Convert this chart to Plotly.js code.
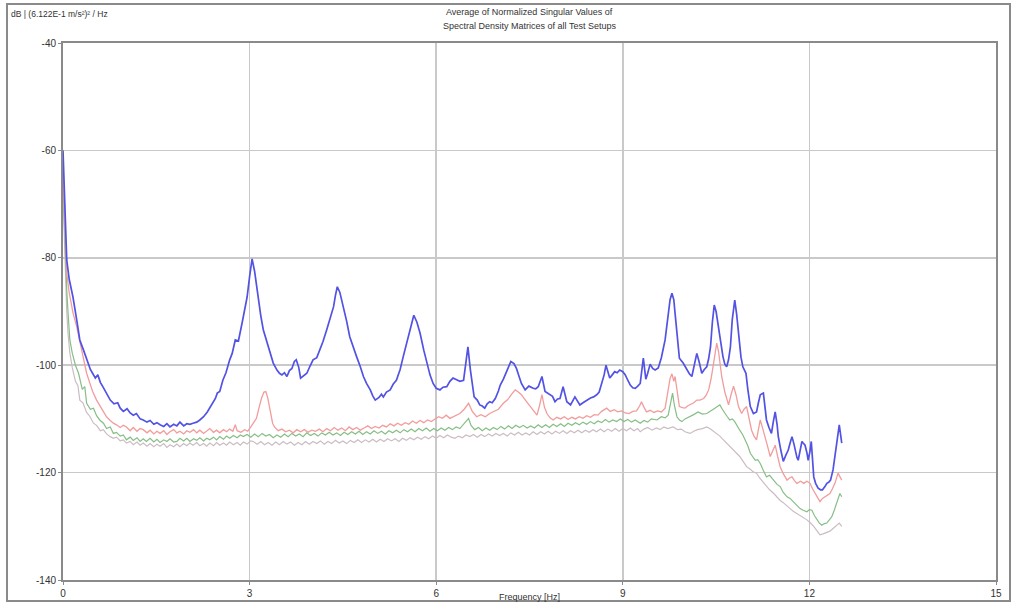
<!DOCTYPE html>
<html>
<head>
<meta charset="utf-8">
<script src="https://cdn.plot.ly/plotly-3.0.1.min.js"></script>
<style>
  html, body { margin: 0; padding: 0; background: #ffffff; }
  #chart { width: 1017px; height: 605px; }
</style>
</head>
<body>
<div id="chart"></div>
<script>
// ---- Data (frequency in Hz, level in dB) ----
const titleLine1 = "Average of Normalized Singular Values of";
const titleLine2 = "Spectral Density Matrices of all Test Setups";
const yUnitLabel = "dB | (6.122E-1 m/s²)² / Hz";
const xAxisLabel = "Frequency [Hz]";
const xTickValues = [0, 3, 6, 9, 12, 15];
const yTickValues = [-140, -120, -100, -80, -60, -40];

const blueFreq = [0.00,0.02,0.04,0.06,0.10,0.16,0.22,0.27,0.33,0.39,0.44,0.48,0.52,0.56,0.60,0.64,0.70,0.76,0.82,0.88,0.92,0.97,1.03,1.08,1.13,1.18,1.24,1.29,1.35,1.40,1.46,1.51,1.56,1.62,1.67,1.72,1.78,1.83,1.88,1.94,1.99,2.04,2.09,2.15,2.20,2.26,2.32,2.37,2.41,2.45,2.48,2.52,2.57,2.62,2.68,2.72,2.77,2.82,2.88,2.92,2.96,3.00,3.04,3.08,3.13,3.18,3.22,3.28,3.33,3.38,3.44,3.48,3.52,3.56,3.60,3.64,3.68,3.72,3.75,3.79,3.82,3.87,3.92,3.97,4.02,4.08,4.13,4.18,4.24,4.30,4.35,4.38,4.41,4.45,4.51,4.56,4.61,4.66,4.72,4.78,4.83,4.88,4.94,4.98,5.02,5.08,5.12,5.15,5.20,5.26,5.31,5.36,5.42,5.47,5.52,5.58,5.64,5.69,5.74,5.80,5.85,5.90,5.95,6.00,6.06,6.11,6.17,6.22,6.27,6.33,6.38,6.44,6.48,6.51,6.55,6.61,6.66,6.70,6.74,6.78,6.82,6.86,6.90,6.95,7.00,7.03,7.08,7.13,7.17,7.20,7.25,7.29,7.33,7.37,7.43,7.49,7.56,7.60,7.64,7.67,7.70,7.75,7.83,7.87,7.91,7.95,7.99,8.04,8.10,8.16,8.23,8.28,8.31,8.36,8.42,8.48,8.53,8.58,8.62,8.66,8.70,8.73,8.76,8.79,8.83,8.87,8.91,8.95,9.00,9.04,9.08,9.12,9.16,9.20,9.24,9.28,9.33,9.37,9.40,9.44,9.48,9.52,9.57,9.62,9.68,9.73,9.76,9.79,9.82,9.84,9.88,9.91,9.97,10.03,10.07,10.11,10.15,10.19,10.23,10.27,10.31,10.35,10.38,10.41,10.44,10.47,10.50,10.54,10.58,10.61,10.64,10.67,10.70,10.73,10.76,10.80,10.83,10.87,10.90,10.93,10.98,11.01,11.05,11.10,11.15,11.18,11.21,11.26,11.28,11.31,11.35,11.39,11.42,11.45,11.48,11.50,11.54,11.58,11.62,11.66,11.69,11.72,11.75,11.77,11.80,11.82,11.85,11.88,11.90,11.93,11.96,11.98,12.01,12.03,12.05,12.07,12.10,12.14,12.18,12.21,12.25,12.28,12.31,12.34,12.38,12.41,12.44,12.46,12.48,12.50,12.52];
const blueDb = [-60,-68,-75,-80.4,-84,-87.3,-91.5,-95.3,-97.2,-99,-100.8,-101.6,-102.4,-101.8,-103.2,-104,-105.3,-106.5,-107.2,-107.0,-108,-108.6,-108.1,-108.9,-109.3,-109.0,-110.0,-110.2,-110.6,-110.3,-111.0,-110.7,-111.1,-111.4,-110.9,-111.5,-111.0,-111.3,-110.6,-111.3,-110.9,-111.0,-110.8,-110.6,-110.2,-109.6,-108.7,-107.8,-107,-106.2,-105.2,-104.9,-102.8,-101.4,-99,-97.8,-95.3,-95.5,-92.1,-90.0,-87.3,-83.5,-80.2,-82.5,-87.0,-90.8,-93.4,-95.8,-97.8,-99.6,-100.9,-101.5,-101.8,-101.4,-102.1,-101.0,-100.6,-99.3,-99.0,-100.4,-102.4,-101.9,-101.5,-100.2,-99,-98.6,-97.2,-95.6,-93.4,-91.2,-89.1,-87.0,-85.4,-86.4,-89.1,-91.8,-94.7,-96.6,-98.4,-100.3,-102.1,-103.4,-104.6,-105.7,-106.5,-106.0,-105.4,-105.9,-105.0,-104.6,-103.5,-102.8,-100.8,-98.4,-96.0,-93.4,-90.7,-92.0,-94,-97.2,-99.6,-101.8,-103.4,-104.3,-104.6,-104.1,-104,-103.0,-102.4,-102.7,-103,-102.8,-99.5,-96.6,-100.9,-105.9,-106.5,-107.4,-107.6,-108,-107.2,-106.8,-107.0,-106.2,-104.8,-103.7,-102.6,-101.2,-100.0,-99.3,-99.7,-100.6,-102.0,-103.4,-104.6,-103.9,-104.3,-104.4,-104,-103.0,-102.1,-104.9,-105.5,-105.8,-106.8,-106.3,-106.2,-104,-106.8,-107.4,-105.9,-106.7,-107.4,-107.0,-106.5,-106.1,-105.9,-105.5,-105.0,-103.4,-101.8,-100,-101.5,-102.4,-101.8,-101.2,-101.4,-100.9,-101.2,-101.8,-102.8,-103.7,-104.2,-104.3,-103.9,-103.4,-98.7,-102.6,-101.5,-99.8,-100.6,-100.9,-100.5,-98.6,-95.3,-90.3,-87.8,-86.6,-87.8,-90.3,-95.0,-98.7,-99.6,-100.9,-101.6,-102.1,-99.8,-97.8,-99.5,-101.5,-100.8,-100.3,-98.8,-96.6,-92.0,-88.8,-90.0,-93.4,-96.2,-98.4,-99.8,-100.3,-99.0,-96.6,-91.5,-87.9,-90.5,-95.3,-98.5,-100.3,-101.5,-104.5,-107.7,-109,-108.7,-107.0,-105.5,-105.2,-107.5,-110.2,-111.6,-112.7,-110.5,-108.7,-111.0,-113.3,-115.8,-117.9,-116.8,-115.8,-114.5,-113.3,-114.6,-115.8,-117.2,-117.7,-116.0,-114.2,-114.5,-114.9,-116.3,-117.7,-116.0,-114.2,-117.5,-120.8,-122.0,-122.9,-123.2,-123.2,-122.6,-122,-121.8,-121.4,-119.5,-117.0,-114.5,-112.5,-111.1,-112.8,-114.5];

const redFreq = [0.00,0.02,0.04,0.06,0.10,0.16,0.22,0.28,0.33,0.38,0.43,0.48,0.54,0.60,0.65,0.70,0.76,0.81,0.86,0.92,0.97,1.02,1.08,1.13,1.19,1.24,1.29,1.35,1.40,1.46,1.51,1.56,1.62,1.67,1.72,1.78,1.83,1.88,1.94,1.99,2.04,2.10,2.15,2.20,2.26,2.31,2.36,2.42,2.47,2.52,2.58,2.63,2.68,2.73,2.77,2.80,2.86,2.92,2.97,3.02,3.07,3.11,3.15,3.19,3.23,3.26,3.29,3.33,3.37,3.40,3.46,3.52,3.58,3.64,3.70,3.76,3.82,3.88,3.94,4.00,4.06,4.12,4.18,4.24,4.30,4.36,4.42,4.48,4.54,4.60,4.66,4.72,4.78,4.84,4.90,4.96,5.02,5.08,5.14,5.20,5.26,5.32,5.38,5.44,5.50,5.56,5.62,5.68,5.74,5.80,5.86,5.92,5.98,6.04,6.10,6.16,6.22,6.30,6.38,6.45,6.52,6.58,6.65,6.72,6.79,6.86,6.93,7.00,7.08,7.15,7.22,7.27,7.32,7.37,7.44,7.51,7.57,7.62,7.66,7.70,7.74,7.78,7.83,7.88,7.94,8.00,8.06,8.12,8.18,8.24,8.30,8.36,8.42,8.48,8.54,8.60,8.66,8.71,8.74,8.80,8.86,8.92,8.98,9.04,9.10,9.16,9.22,9.27,9.30,9.34,9.38,9.44,9.50,9.56,9.62,9.68,9.72,9.76,9.79,9.82,9.84,9.88,9.91,9.96,10.00,10.04,10.08,10.14,10.19,10.24,10.30,10.34,10.38,10.42,10.46,10.49,10.51,10.54,10.59,10.64,10.70,10.74,10.78,10.82,10.86,10.91,10.95,10.99,11.03,11.07,11.11,11.15,11.18,11.21,11.25,11.29,11.33,11.37,11.41,11.45,11.49,11.53,11.58,11.64,11.68,11.72,11.76,11.80,11.86,11.91,11.96,12.01,12.05,12.09,12.13,12.17,12.21,12.25,12.29,12.33,12.37,12.41,12.46,12.49,12.52];
const redDb = [-64,-70,-77,-82.8,-86.5,-90.2,-92.8,-96.3,-99.0,-101.5,-103.3,-105.0,-106.5,-107.6,-108.7,-109.6,-110.3,-110.8,-111.1,-111.6,-111.2,-111.5,-112.2,-111.6,-112.3,-111.8,-112.0,-112.6,-112.1,-112.8,-112.3,-112.7,-112.2,-112.9,-112.4,-112.0,-112.6,-112.3,-112.8,-112.2,-112.5,-112.0,-112.6,-112.1,-112.7,-112.3,-111.8,-112.5,-112.1,-112.6,-112.0,-112.4,-111.9,-112.3,-111.1,-112.2,-112.5,-112.0,-112.3,-111.5,-110.6,-109.9,-108.0,-106.2,-105.0,-104.9,-106.0,-108.6,-110.8,-111.5,-112.2,-111.9,-112.4,-112.1,-112.6,-112.0,-112.4,-112.0,-112.5,-112.1,-112.3,-111.9,-112.4,-111.8,-112.2,-111.6,-112.1,-111.7,-112.2,-111.5,-112.0,-111.6,-112.1,-111.7,-111.3,-111.8,-111.4,-111.7,-111.2,-111.5,-110.9,-111.3,-110.8,-111.2,-110.7,-111.0,-110.4,-110.8,-110.3,-110.7,-110.2,-110.5,-110.0,-109.6,-109.9,-109.3,-109.9,-109.4,-109.0,-108.2,-107.1,-108.6,-109.6,-109.2,-109.6,-109.0,-108.6,-108.2,-107.1,-106.4,-105.3,-104.6,-105.0,-105.5,-106.6,-107.7,-108.6,-109.3,-107.6,-105.5,-107.8,-109.0,-109.8,-110.2,-109.7,-110.0,-109.6,-110.1,-109.7,-110.0,-109.6,-109.9,-109.4,-109.7,-109.2,-109.3,-108.6,-108.2,-108.0,-108.6,-108.3,-108.7,-108.5,-108.9,-109.0,-108.6,-108.5,-107.6,-106.8,-107.8,-108.7,-108.4,-108.8,-108.5,-108.7,-108.0,-105.6,-102.5,-101.6,-103.0,-102.1,-105.5,-107.7,-107.9,-108.0,-107.6,-107.4,-107.0,-106.5,-106.5,-106.2,-105.6,-104.6,-102.5,-99.6,-97.0,-95.9,-97.5,-102.1,-105.0,-107.4,-105.5,-103.9,-105.5,-107.7,-109.0,-108.2,-107.7,-110.0,-112.1,-113.2,-113.9,-112.0,-110.2,-111.8,-113.3,-115.2,-117.0,-115.9,-114.9,-117.0,-118.9,-120.2,-121.4,-121.0,-120.8,-121.5,-122.0,-121.6,-122.0,-121.6,-122.0,-123.0,-123.9,-124.8,-125.4,-124.8,-124.5,-124.2,-123.9,-123.0,-122.0,-120.1,-120.8,-121.4];

const greenFreq = [0.00,0.02,0.04,0.06,0.08,0.11,0.15,0.20,0.25,0.31,0.35,0.38,0.44,0.49,0.54,0.59,0.65,0.70,0.76,0.81,0.86,0.92,0.97,1.02,1.08,1.13,1.19,1.24,1.29,1.34,1.40,1.46,1.51,1.56,1.62,1.67,1.72,1.78,1.83,1.88,1.94,1.99,2.04,2.10,2.15,2.20,2.26,2.31,2.36,2.42,2.47,2.52,2.58,2.63,2.68,2.74,2.80,2.85,2.90,2.96,3.02,3.08,3.14,3.20,3.26,3.32,3.38,3.44,3.50,3.56,3.62,3.68,3.74,3.80,3.86,3.92,3.98,4.04,4.10,4.16,4.22,4.28,4.34,4.40,4.46,4.52,4.58,4.64,4.70,4.76,4.82,4.88,4.94,5.00,5.06,5.12,5.18,5.24,5.30,5.36,5.42,5.48,5.54,5.60,5.66,5.72,5.78,5.84,5.90,5.96,6.02,6.08,6.14,6.20,6.26,6.32,6.38,6.44,6.48,6.52,6.56,6.62,6.68,6.74,6.80,6.86,6.92,6.98,7.04,7.10,7.16,7.22,7.28,7.34,7.40,7.46,7.52,7.58,7.64,7.70,7.76,7.82,7.88,7.94,8.00,8.06,8.12,8.18,8.24,8.30,8.36,8.42,8.48,8.54,8.60,8.66,8.72,8.78,8.84,8.90,8.96,9.02,9.08,9.14,9.20,9.28,9.34,9.40,9.46,9.55,9.62,9.68,9.73,9.77,9.80,9.83,9.87,9.91,9.95,10.00,10.04,10.08,10.14,10.21,10.28,10.35,10.41,10.48,10.52,10.56,10.60,10.64,10.68,10.72,10.76,10.80,10.84,10.88,10.93,10.97,11.01,11.05,11.09,11.13,11.17,11.21,11.26,11.31,11.36,11.42,11.48,11.53,11.58,11.64,11.69,11.74,11.80,11.85,11.90,11.96,12.00,12.04,12.08,12.12,12.16,12.20,12.24,12.28,12.32,12.36,12.40,12.44,12.49,12.52];
const greenDb = [-66,-74,-81,-86,-90,-95.3,-97.8,-100.0,-101.5,-104.5,-104.0,-107.1,-108.2,-108.0,-109.4,-110.2,-110.8,-111.8,-111.5,-112.7,-112.5,-113.2,-113.0,-113.9,-113.4,-114.0,-113.5,-114.2,-113.7,-114.2,-113.6,-114.3,-113.8,-114.4,-113.9,-114.2,-113.7,-114.3,-114.2,-113.6,-114.1,-113.6,-114.2,-113.7,-114.0,-113.5,-114.1,-113.6,-113.9,-113.4,-113.9,-113.3,-113.8,-113.2,-113.6,-113.1,-113.5,-113.0,-113.3,-112.9,-113.4,-112.8,-113.3,-112.7,-113.2,-112.9,-113.5,-113.0,-113.4,-112.8,-113.3,-112.7,-113.2,-112.8,-113.3,-112.6,-113.1,-112.7,-113.2,-112.6,-113.0,-112.5,-113.0,-112.6,-113.1,-112.5,-112.9,-112.4,-112.8,-112.3,-112.9,-112.4,-112.8,-112.2,-112.7,-112.3,-112.8,-112.2,-112.6,-112.1,-112.6,-112.0,-112.4,-111.9,-112.4,-111.8,-112.2,-111.7,-112.3,-111.8,-112.2,-111.7,-112.1,-111.6,-112.0,-111.5,-111.8,-111.0,-110.4,-109.9,-111.2,-112.0,-111.6,-112.2,-111.7,-112.1,-111.6,-112.0,-111.4,-111.9,-111.3,-111.8,-111.2,-111.6,-111.2,-111.7,-111.3,-111.7,-111.1,-111.6,-111.1,-111.6,-111.0,-111.4,-110.9,-111.4,-110.8,-111.2,-110.7,-111.1,-110.6,-111.0,-110.5,-110.9,-110.4,-110.7,-110.1,-110.6,-110.2,-110.5,-110.0,-110.5,-110.1,-110.6,-110.2,-110.8,-110.3,-110.6,-110.0,-110.2,-109.6,-109.8,-109.3,-107.0,-105.2,-107.5,-109.6,-110.2,-110.5,-110.0,-109.8,-109.6,-109.2,-108.7,-109.1,-109.0,-108.6,-108.0,-107.7,-107.4,-108.2,-109.0,-109.6,-110.2,-110.0,-110.5,-111.4,-112.1,-113.0,-113.9,-115.0,-116.4,-117.0,-117.7,-117.6,-118.3,-119.6,-120.8,-120.5,-121.4,-122.2,-122.6,-123.7,-124.5,-124.8,-125.4,-126.2,-126.7,-127.0,-127.3,-126.9,-127.0,-128.0,-128.8,-129.4,-129.8,-129.5,-129.4,-128.9,-128.2,-127.0,-125.7,-123.9,-124.5];

const greyFreq = [0.00,0.02,0.04,0.06,0.08,0.11,0.15,0.20,0.24,0.27,0.32,0.38,0.43,0.49,0.54,0.60,0.65,0.70,0.76,0.81,0.86,0.92,0.97,1.02,1.08,1.13,1.19,1.24,1.29,1.35,1.40,1.46,1.51,1.56,1.62,1.67,1.72,1.78,1.83,1.88,1.94,1.99,2.04,2.09,2.15,2.20,2.26,2.31,2.36,2.42,2.47,2.52,2.58,2.63,2.68,2.74,2.80,2.85,2.90,2.96,3.02,3.06,3.12,3.18,3.24,3.30,3.36,3.42,3.48,3.54,3.60,3.66,3.72,3.78,3.84,3.90,3.96,4.02,4.08,4.14,4.20,4.26,4.32,4.38,4.44,4.50,4.56,4.62,4.68,4.74,4.80,4.86,4.92,4.98,5.04,5.10,5.16,5.22,5.28,5.34,5.40,5.46,5.52,5.58,5.64,5.70,5.76,5.82,5.88,5.94,6.00,6.06,6.12,6.18,6.24,6.30,6.36,6.42,6.48,6.54,6.60,6.66,6.72,6.78,6.84,6.90,6.96,7.02,7.08,7.14,7.20,7.26,7.32,7.38,7.44,7.50,7.56,7.62,7.68,7.74,7.80,7.86,7.92,7.98,8.04,8.10,8.16,8.22,8.28,8.34,8.40,8.46,8.52,8.58,8.64,8.70,8.76,8.82,8.88,8.94,9.00,9.06,9.12,9.18,9.24,9.28,9.34,9.40,9.47,9.54,9.60,9.66,9.72,9.81,9.88,9.94,10.00,10.08,10.14,10.20,10.28,10.35,10.41,10.46,10.51,10.56,10.61,10.67,10.72,10.78,10.83,10.88,10.94,10.99,11.04,11.09,11.15,11.20,11.26,11.31,11.36,11.42,11.47,11.53,11.58,11.64,11.69,11.74,11.80,11.85,11.90,11.96,12.01,12.07,12.12,12.17,12.22,12.28,12.33,12.38,12.43,12.48,12.52];
const greyDb = [-68,-77,-85,-90,-94,-97.7,-100.5,-103.0,-103.8,-106.5,-107.0,-108.8,-109.5,-110.8,-111.2,-112.2,-112.0,-112.8,-113.3,-113.6,-113.4,-114.1,-113.9,-114.5,-114.2,-114.8,-114.3,-114.9,-114.5,-115.1,-114.6,-115.2,-114.7,-115.1,-114.6,-115.3,-114.8,-115.2,-114.7,-115.2,-114.6,-115.0,-114.5,-114.9,-114.4,-115.0,-114.6,-115.1,-114.5,-115.0,-114.4,-114.9,-114.5,-114.9,-114.3,-114.8,-114.4,-114.9,-114.3,-114.7,-114.1,-114.2,-114.7,-114.2,-114.8,-114.4,-114.9,-114.3,-114.8,-114.2,-114.7,-114.3,-114.9,-114.4,-114.8,-114.2,-114.7,-114.2,-114.6,-114.1,-114.7,-114.2,-114.6,-114.0,-114.5,-114.1,-114.6,-114.0,-114.4,-113.9,-114.4,-113.9,-114.3,-113.8,-114.3,-113.8,-114.2,-113.7,-114.1,-113.7,-114.2,-113.6,-114.0,-113.5,-113.9,-113.4,-113.8,-113.3,-113.7,-113.2,-113.6,-113.1,-113.5,-113.0,-113.4,-113.6,-113.2,-113.5,-113.0,-113.3,-112.9,-113.4,-112.9,-113.3,-112.8,-113.2,-112.7,-113.1,-112.7,-113.2,-112.6,-113.0,-112.5,-113.0,-112.6,-113.0,-112.4,-112.9,-112.4,-112.8,-112.3,-112.8,-112.3,-112.7,-112.2,-112.7,-112.2,-112.6,-112.1,-112.6,-112.1,-112.5,-112.0,-112.4,-111.9,-112.4,-111.9,-112.3,-111.8,-112.3,-111.8,-112.2,-111.7,-112.2,-111.8,-112.4,-111.9,-111.6,-112.1,-111.7,-112.0,-111.5,-111.8,-111.5,-112.0,-111.9,-112.4,-112.7,-112.3,-112.0,-111.8,-111.5,-111.9,-112.3,-112.7,-113.2,-113.8,-114.5,-115.0,-115.7,-116.4,-117.0,-118.0,-118.9,-119.3,-119.8,-120.1,-121.0,-121.8,-122.6,-123.2,-123.8,-124.5,-125.2,-125.6,-126.3,-126.7,-127.2,-127.6,-128.0,-128.3,-128.8,-129.3,-130.0,-130.8,-131.6,-131.4,-131.2,-130.9,-130.4,-129.8,-129.4,-130.0];

// ---- Traces ----
const traces = [
  { x: greyFreq, y: greyDb, type: 'scatter', mode: 'lines', name: 'SV4',
    line: { color: '#cbbcc4', width: 1.2 } },
  { x: greenFreq, y: greenDb, type: 'scatter', mode: 'lines', name: 'SV3',
    line: { color: '#86be86', width: 1.2 } },
  { x: redFreq, y: redDb, type: 'scatter', mode: 'lines', name: 'SV2',
    line: { color: '#f29c9c', width: 1.3 } },
  { x: blueFreq, y: blueDb, type: 'scatter', mode: 'lines', name: 'SV1',
    line: { color: '#5252e4', width: 1.7 } }
];

const fontFam = '"Liberation Sans", Arial, sans-serif';
const textColor = '#333333';

const layout = {
  width: 1017, height: 605,
  margin: { l: 63, r: 21, t: 43, b: 25, pad: 0 },
  paper_bgcolor: '#ffffff',
  plot_bgcolor: '#ffffff',
  showlegend: false,
  font: { family: fontFam, size: 10, color: textColor },
  xaxis: {
    range: [0, 15],
    tickvals: xTickValues,
    ticktext: xTickValues.map(String),
    showgrid: true, gridcolor: '#c9c9c9', gridwidth: 1.5,
    zeroline: false,
    showline: true, linecolor: '#8a8a8a', linewidth: 2, mirror: true,
    ticks: 'outside', ticklen: 3, tickcolor: '#8a8a8a',
    tickfont: { family: fontFam, size: 10, color: textColor }
  },
  yaxis: {
    range: [-140, -40],
    tickvals: yTickValues,
    ticktext: yTickValues.map(String),
    showgrid: true, gridcolor: '#c9c9c9', gridwidth: 1.5,
    zeroline: false,
    showline: true, linecolor: '#8a8a8a', linewidth: 2, mirror: true,
    ticks: 'outside', ticklen: 3, tickcolor: '#8a8a8a',
    tickfont: { family: fontFam, size: 10, color: textColor }
  },
  annotations: [
    { text: titleLine1, xref: 'paper', yref: 'paper',
      x: 0.5, y: (580 - 12) / 537, xanchor: 'center', yanchor: 'middle',
      showarrow: false, font: { family: fontFam, size: 9, color: textColor } },
    { text: titleLine2, xref: 'paper', yref: 'paper',
      x: 0.5, y: (580 - 26) / 537, xanchor: 'center', yanchor: 'middle',
      showarrow: false, font: { family: fontFam, size: 9, color: textColor } },
    { text: yUnitLabel, xref: 'paper', yref: 'paper',
      x: (9 - 63) / 933, y: (580 - 14) / 537, xanchor: 'left', yanchor: 'middle',
      showarrow: false, font: { family: fontFam, size: 8.5, color: textColor } },
    { text: xAxisLabel, xref: 'paper', yref: 'paper',
      x: 0.5, y: (580 - 597) / 537, xanchor: 'center', yanchor: 'middle',
      showarrow: false, font: { family: fontFam, size: 9, color: textColor } }
  ],
  shapes: [
    { type: 'rect', xref: 'paper', yref: 'paper',
      x0: (7 - 63) / 933, x1: (1010 - 63) / 933,
      y0: (580 - 601) / 537, y1: (580 - 4) / 537,
      line: { color: '#8a8a8a', width: 2 }, fillcolor: 'rgba(0,0,0,0)', layer: 'below' }
  ]
};

Plotly.newPlot('chart', traces, layout, { displayModeBar: false, staticPlot: true });
</script>
</body>
</html>
